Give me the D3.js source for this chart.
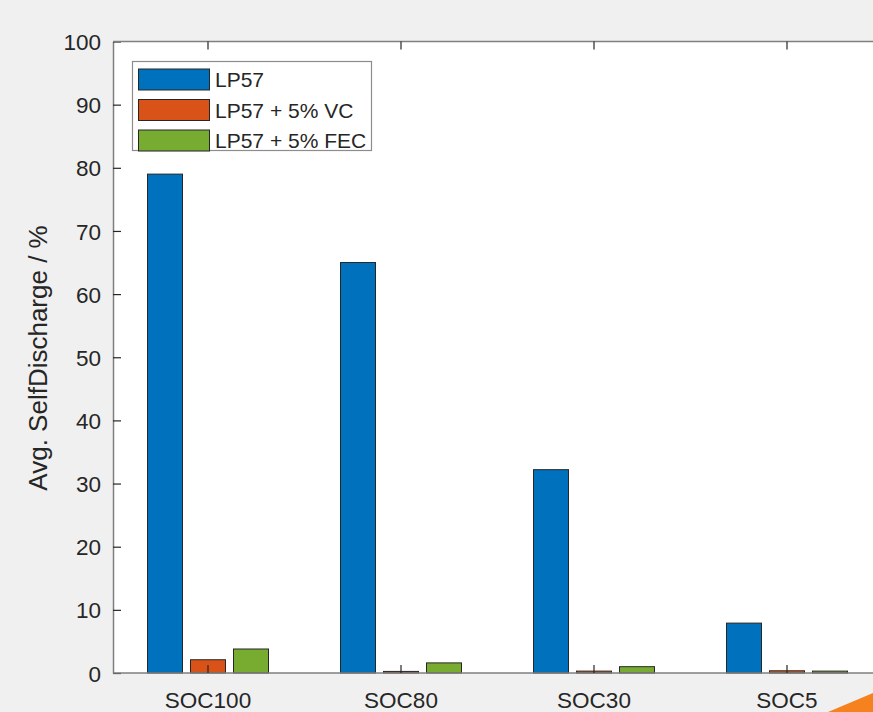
<!DOCTYPE html>
<html>
<head>
<meta charset="utf-8">
<script src="https://cdn.jsdelivr.net/npm/d3@7"></script>
<style>
  body { margin: 0; background: #f0f0f0; }
  svg { display: block; font-family: "Liberation Sans", Arial, sans-serif; }
  .axis text { fill: #262626; font-size: 22.5px; }
</style>
</head>
<body>
<svg width="873" height="712"></svg>
<script>
// data
var categories = ['SOC100', 'SOC80', 'SOC30', 'SOC5'];
var series = ['LP57', 'LP57 + 5% VC', 'LP57 + 5% FEC'];
var lp57 = [79.0, 65.0, 32.2, 7.9];
var lp57VC = [2.1, 0.25, 0.3, 0.35];
var lp57FEC = [3.8, 1.6, 1.0, 0.3];
var yTicks = [0, 10, 20, 30, 40, 50, 60, 70, 80, 90, 100];
var colors = ['#0072BD', '#D95319', '#77AC30'];

var values = [lp57, lp57VC, lp57FEC];

var svg = d3.select('svg');
var W = 873, H = 712;

// axes box (the right side runs off the figure)
var axLeft = 113, axTop = 41.5, axBottom = 673;

var x = d3.scaleBand().domain(categories).range([111.5, 883.5]);
var xSub = d3.scaleBand().domain(series).range([-60.5, 60.5]).paddingInner(0.186);
var y = d3.scaleLinear().domain([0, 100]).range([axBottom, axTop]);

// white plot area
svg.append('rect')
    .attr('x', axLeft).attr('y', axTop)
    .attr('width', W - axLeft + 5).attr('height', axBottom - axTop)
    .attr('fill', '#fff');

// bars
var rows = [];
categories.forEach(function(c, i) {
    series.forEach(function(s, j) {
        rows.push({cat: c, s: s, v: values[j][i], k: j});
    });
});

svg.append('g').selectAll('rect')
    .data(rows)
    .enter()
    .append('rect')
    .attr('x', function(d) { return x(d.cat) + x.bandwidth() / 2 + xSub(d.s); })
    .attr('y', function(d) { return y(d.v); })
    .attr('width', xSub.bandwidth())
    .attr('height', function(d) { return axBottom - y(d.v); })
    .attr('fill', function(d) { return colors[d.k]; })
    .attr('stroke', '#262626')
    .attr('stroke-width', 1);

// axes
var yAxis = svg.append('g')
    .attr('class', 'axis')
    .attr('transform', 'translate(' + axLeft + ',0)')
    .call(d3.axisLeft(y).tickValues(yTicks).tickSize(-8).tickPadding(12).tickSizeOuter(0));

var xAxis = svg.append('g')
    .attr('class', 'axis')
    .attr('transform', 'translate(0,' + axBottom + ')')
    .call(d3.axisBottom(x).tickSize(-8).tickPadding(19).tickSizeOuter(0));

var xTop = svg.append('g')
    .attr('class', 'axis')
    .attr('transform', 'translate(0,' + axTop + ')')
    .call(d3.axisTop(x).tickSize(-8).tickSizeOuter(0));
xTop.selectAll('text').remove();

[yAxis, xAxis, xTop].forEach(function(g) {
    g.select('.domain').attr('stroke', '#7f7f7f').attr('stroke-width', 1.5);
    g.selectAll('.tick line').attr('stroke', '#262626').attr('stroke-width', 1.2);
});
xAxis.select('.domain').attr('d', 'M' + axLeft + ',0H' + (W + 5));
xTop.select('.domain').attr('d', 'M' + axLeft + ',0H' + (W + 5));
yAxis.selectAll('.tick text').attr('dy', '0.36em');

// y label
svg.append('text')
    .attr('transform', 'translate(47,358) rotate(-90)')
    .attr('text-anchor', 'middle')
    .attr('fill', '#262626')
    .style('font-size', '26px')
    .text('Avg. SelfDischarge / %');

// legend
var legend = svg.append('g');
legend.append('rect')
    .attr('x', 132.5).attr('y', 61.5)
    .attr('width', 239).attr('height', 89)
    .attr('fill', '#fff')
    .attr('stroke', '#8c8c8c')
    .attr('stroke-width', 1.2);

var item = legend.selectAll('g.item')
    .data(series)
    .enter()
    .append('g')
    .attr('class', 'item')
    .attr('transform', function(d, i) { return 'translate(0,' + (79.5 + i * 30.5) + ')'; });

item.append('rect')
    .attr('x', 138.5).attr('y', -10.5)
    .attr('width', 71).attr('height', 21)
    .attr('fill', function(d, i) { return colors[i]; })
    .attr('stroke', '#262626')
    .attr('stroke-width', 1);

item.append('text')
    .attr('x', 215)
    .attr('dy', '0.36em')
    .attr('fill', '#262626')
    .style('font-size', '21px')
    .text(function(d) { return d; });

// orange corner decoration
svg.append('path')
    .attr('d', 'M828,712L873,693L873,712Z')
    .attr('fill', '#F5821F');
</script>
</body>
</html>
